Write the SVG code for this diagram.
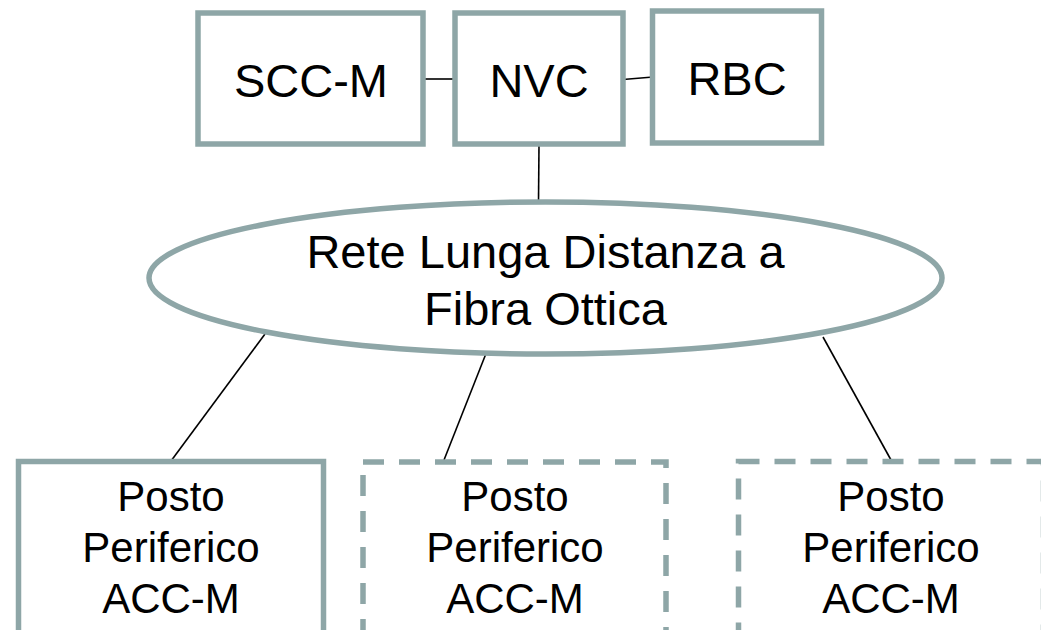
<svg xmlns="http://www.w3.org/2000/svg" width="1041" height="630" viewBox="0 0 1041 630">
<style>
.box{fill:#ffffff;stroke:#8ea6a7;stroke-width:5.5}
.dash{stroke-dasharray:21 15}
.lbl{font-family:"Liberation Sans",Arial,sans-serif;fill:#000000;text-anchor:middle}
.big{font-size:47px}
.small{font-size:42px}
.conn{stroke:#000000;stroke-width:1.6;fill:none}
</style>
<rect width="1041" height="630" fill="#ffffff"/>
<g id="connectors">
<line class="conn" x1="423" y1="79" x2="455" y2="79"/>
<line class="conn" x1="623" y1="79.5" x2="653" y2="77"/>
<line class="conn" x1="539" y1="145" x2="538.5" y2="202"/>
<line class="conn" x1="265" y1="334" x2="171" y2="461"/>
<line class="conn" x1="487" y1="351" x2="444" y2="460"/>
<line class="conn" x1="823" y1="337" x2="891" y2="460"/>
</g>
<g id="scc-m">
<rect class="box" x="198" y="13" width="225" height="131"/>
<text class="lbl big" x="311" y="97">SCC-M</text>
</g>
<g id="nvc">
<rect class="box" x="455" y="13" width="168" height="131"/>
<text class="lbl big" x="539" y="97">NVC</text>
</g>
<g id="rbc">
<rect class="box" x="652.5" y="11" width="169" height="132"/>
<text class="lbl big" x="737" y="95">RBC</text>
</g>
<g id="rete">
<ellipse class="box" cx="545.5" cy="278" rx="396.5" ry="76" stroke-width="4.5"/>
<text class="lbl big" x="545.5" y="268">Rete Lunga Distanza a</text>
<text class="lbl big" x="545.5" y="325">Fibra Ottica</text>
</g>
<g id="posto1">
<rect class="box" x="18.5" y="461.5" width="305" height="200"/>
<text class="lbl small" x="171" y="511">Posto</text>
<text class="lbl small" x="171" y="562">Periferico</text>
<text class="lbl small" x="171" y="613">ACC-M</text>
</g>
<g id="posto2">
<rect class="box dash" x="363" y="462" width="303" height="200"/>
<text class="lbl small" x="515" y="511">Posto</text>
<text class="lbl small" x="515" y="562">Periferico</text>
<text class="lbl small" x="515" y="613">ACC-M</text>
</g>
<g id="posto3">
<rect class="box dash" x="738.5" y="461.5" width="305" height="200"/>
<text class="lbl small" x="891" y="511">Posto</text>
<text class="lbl small" x="891" y="562">Periferico</text>
<text class="lbl small" x="891" y="613">ACC-M</text>
</g>
</svg>
